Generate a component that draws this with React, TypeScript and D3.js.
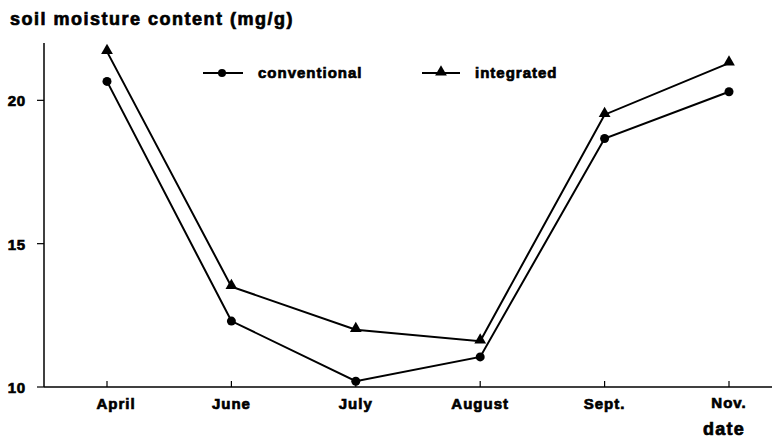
import React from "react";
import * as d3 from "d3";

const months = ["April", "June", "July", "August", "Sept.", "Nov."];
const conventional = [20.66, 12.3, 10.2, 11.05, 18.67, 20.3];
const integrated = [21.7, 13.5, 12.0, 11.6, 19.5, 21.3];
const yTicks = [10, 15, 20];

const W = 774;
const H = 443;
const FONT = "'Liberation Sans', Arial, sans-serif";
const heavy = { fontFamily: FONT, fontWeight: "bold" as const, stroke: "#000", strokeWidth: 0.7, fill: "#000" };

export default function App() {
  const x = d3.scalePoint<string>().domain(months).range([107, 729]);
  const y = d3.scaleLinear().domain([10, 22]).range([387, 43]);
  const line = d3
    .line<number>()
    .x((_, i) => x(months[i]) as number)
    .y((d) => y(d));
  const tri = d3.symbol().type(d3.symbolTriangle).size(60);

  return (
    <svg width={W} height={H} style={{ position: "absolute", left: 0, top: 0, background: "#fff" }}>
      <text x={10} y={25} {...heavy} fontSize={18} letterSpacing={1.5}>
        soil moisture content (mg/g)
      </text>
      {/* axes */}
      <line x1={44} x2={44} y1={y(22)} y2={y(10)} stroke="#000" strokeWidth={1.5} />
      <line x1={44} x2={772} y1={y(10)} y2={y(10)} stroke="#000" strokeWidth={1.5} />
      {yTicks.map((t) => (
        <g key={t}>
          <line x1={37} x2={44} y1={y(t)} y2={y(t)} stroke="#000" strokeWidth={1.2} />
          <text x={26} y={y(t) + 6} textAnchor="end" {...heavy} fontSize={15} letterSpacing={0.8}>
            {t}
          </text>
        </g>
      ))}
      {months.map((m) => (
        <g key={m}>
          <line x1={x(m)} x2={x(m)} y1={y(10)} y2={y(10) - 6} stroke="#000" strokeWidth={1.2} />
          <text
            x={(x(m) as number) + (m === "April" ? 9 : 0)}
            y={m === "Nov." ? 408 : 409}
            textAnchor="middle"
            {...heavy}
            fontSize={15}
            letterSpacing={1}
          >
            {m}
          </text>
        </g>
      ))}
      <text x={724} y={435} textAnchor="middle" {...heavy} fontSize={18} letterSpacing={1.2}>
        date
      </text>
      {/* series */}
      <path d={line(conventional) || ""} fill="none" stroke="#000" strokeWidth={2} />
      <path d={line(integrated) || ""} fill="none" stroke="#000" strokeWidth={2} />
      {conventional.map((v, i) => (
        <circle key={"c" + i} cx={x(months[i])} cy={y(v)} r={4.5} fill="#000" />
      ))}
      {integrated.map((v, i) => (
        <path
          key={"t" + i}
          d={tri() || ""}
          transform={`translate(${x(months[i])},${y(v) - 1})`}
          fill="#000"
        />
      ))}
      {/* legend */}
      <line x1={203} x2={243} y1={73} y2={73} stroke="#000" strokeWidth={2} />
      <circle cx={222} cy={73} r={4} fill="#000" />
      <text x={258} y={78} {...heavy} fontSize={15} letterSpacing={1}>
        conventional
      </text>
      <line x1={422} x2={460} y1={73} y2={73} stroke="#000" strokeWidth={2} />
      <path d={tri() || ""} transform="translate(441,72)" fill="#000" />
      <text x={475} y={78} {...heavy} fontSize={15} letterSpacing={1}>
        integrated
      </text>
    </svg>
  );
}
